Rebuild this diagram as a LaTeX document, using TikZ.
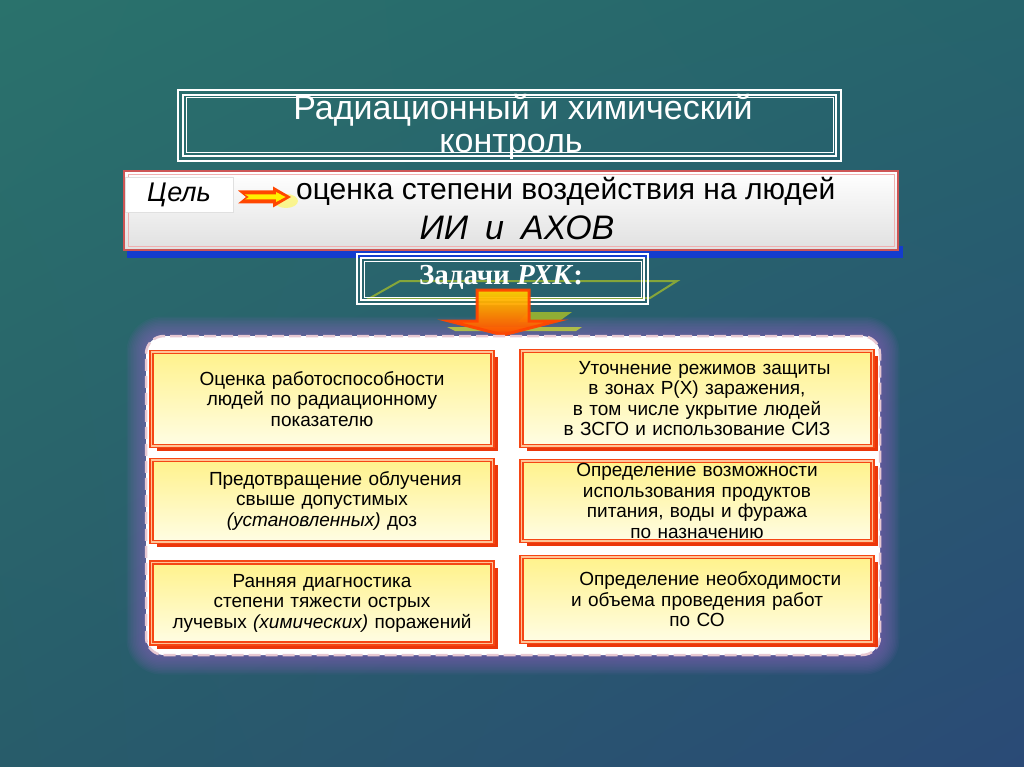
\documentclass[tikz,border=0pt]{standalone}
\usepackage{fontspec}
\setmainfont{Liberation Sans}
\newfontfamily\tnr{Liberation Serif}
\usetikzlibrary{shadows,shadings}
\definecolor{bgA}{RGB}{42,114,108}
\definecolor{bgB}{RGB}{38,100,108}
\definecolor{bgC}{RGB}{40,92,106}
\definecolor{bgD}{RGB}{42,74,118}
\definecolor{boxred}{RGB}{245,70,20}
\definecolor{boxpale}{RGB}{255,195,150}
\definecolor{boxshadow}{RGB}{235,55,10}
\definecolor{yelTop}{RGB}{255,242,140}
\definecolor{yelBot}{RGB}{255,253,228}
\definecolor{goalred}{RGB}{205,85,85}
\definecolor{goalpink}{RGB}{240,175,175}
\definecolor{goalblue}{RGB}{20,60,205}
\definecolor{glowpurple}{RGB}{118,98,172}
\definecolor{panelborder}{RGB}{232,200,210}
\definecolor{planegreen}{RGB}{150,178,50}
\definecolor{shadowgreen}{RGB}{190,205,60}
\definecolor{arrred}{RGB}{255,70,0}
\definecolor{arryel}{RGB}{255,240,0}
\begin{document}
\begin{tikzpicture}[x=1pt,y=-1pt,
  taskbox/.style={draw=boxred, line width=1.5pt, double=boxpale, double distance=1.2pt,
    top color=yelTop, bottom color=yelBot,
    drop shadow={shadow xshift=5pt, shadow yshift=-5pt, fill=boxshadow, opacity=1},
    align=center, font=\fontsize{19}{20.5}\selectfont, inner sep=2pt},
  leftbox/.style={taskbox, minimum width=341, text width=335},
  rightbox/.style={taskbox, minimum width=351, text width=345},
  frameline/.style={draw=white, line width=1.3pt},
  whitetext/.style={text=white, align=center}]
\useasboundingbox (0,0) rectangle (1024,767);
% background
\shade[upper left=bgA, upper right=bgB, lower left=bgC, lower right=bgD] (0,0) rectangle (1024,767);

% title frame
\draw[frameline] (178,90) rectangle (841,161);
\draw[frameline] (183,95) rectangle (836,156);
\draw[frameline, line width=1pt] (186,98) rectangle (833,153);
\node[whitetext, font=\fontsize{34}{33}\selectfont] (title) at (511,127)
  {\hspace*{24pt}Радиационный и химический\\контроль};

% goal bar
\fill[goalblue] (127,246) rectangle (903,258);
\shade[top color=white, bottom color=black!12] (124,171) rectangle (898,250);
\draw[goalred, line width=1.6pt] (124,171) rectangle (898,250);
\draw[goalpink, line width=1pt] (128,175) rectangle (894,246);
\node[fill=white, draw=black!12, minimum width=108, minimum height=35, inner sep=0pt,
  font=\itshape\fontsize{27}{27}\selectfont, text=black] (goal) at (179,194.5) {Цель};
% small arrow
\fill[yellow!70, opacity=0.6] (286,201) ellipse (12 and 7);
\fill[arrred] (238,190.5) -- (273,190.5) -- (273,186.5) -- (291,197) -- (273,207.5)
  -- (273,203.5) -- (238,203.5) -- (246,197) -- cycle;
\fill[arryel] (245,194.5) -- (276,194.5) -- (276,192) -- (285.5,197) -- (276,202)
  -- (276,199.5) -- (245,199.5) -- (249,197) -- cycle;
\node[anchor=west, font=\fontsize{30}{30}\selectfont, text=black, inner sep=0pt]
  (goaltext) at (296,191) {оценка степени воздействия на людей};
\node[font=\itshape\fontsize{34}{34}\selectfont, text=black] (agents) at (517,228)
  {ИИ\hspace{0.5em}и\hspace{0.5em}АХОВ};

% green plane behind the tasks box
\draw[planegreen, line width=2pt, opacity=0.85] (370,298) -- (400,281) -- (677,281) -- (650,298) -- cycle;

% tasks box
\draw[frameline, line width=1.2pt] (357,254) rectangle (648,304);
\draw[frameline, line width=1.2pt] (361,258) rectangle (644,300);
\draw[frameline, line width=0.8pt] (364,261) rectangle (641,297);
\node[text=white, font=\tnr\bfseries\fontsize{29}{29}\selectfont] (tasks) at (501,277)
  {Задачи \textit{РХК}:};

% glow around the panel
\foreach \i [evaluate=\i as \r using 16+1.5*\i] in {1,...,13}{
  \fill[glowpurple, opacity=0.095, rounded corners=\r pt]
    (146-1.5*\i,336-1.5*\i) rectangle (880+1.5*\i,655+1.5*\i);
}
% green shadow pieces of the plane under the arrow
\fill[planegreen, opacity=0.95] (528,312) -- (572,312) -- (558,322) -- (518,322) -- cycle;
\fill[shadowgreen, opacity=0.85] (447,327) -- (582,327) -- (576,331) -- (455,331) -- cycle;

% big arrow
\shade[top color=arryel!75!orange, middle color=arryel, bottom color=arrred, opacity=0.95]
  (477,290) -- (529,290) -- (529,321) -- (557,321) -- (503,335) -- (449,321) -- (477,321) -- cycle;
\draw[arrred, line width=3pt, opacity=0.95, line join=miter]
  (477,290) -- (529,290) -- (529,321) -- (557,321) -- (503,335) -- (449,321) -- (477,321) -- cycle;

% panel
\node[fill=white, draw=panelborder, line width=2.5pt, dash pattern=on 12pt off 5pt,
  rounded corners=18pt, minimum width=734, minimum height=319] (panel) at (513,495.5) {};

% task boxes
\node[leftbox, minimum height=94] (l1) at (322,399)
  {Оценка работоспособности\\людей по радиационному\\показателю};
\node[leftbox, minimum height=82] (l2) at (322,501)
  {\hspace*{1.4em}Предотвращение облучения\\свыше допустимых\\\textit{(установленных)} доз};
\node[leftbox, minimum height=81] (l3) at (322,603)
  {Ранняя диагностика\\степени тяжести острых\\лучевых \textit{(химических)} поражений};
\node[rightbox, minimum height=95] (r1) at (697,398.5)
  {\hspace*{0.8em}Уточнение режимов защиты\\в зонах Р(Х) заражения,\\в том числе укрытие людей\\в ЗСГО и использование СИЗ};
\node[rightbox, minimum height=80] (r2) at (697,501)
  {Определение возможности\\использования продуктов\\питания, воды и фуража\\по назначению};
\node[rightbox, minimum height=85] (r3) at (697,599.5)
  {\hspace*{1.4em}Определение необходимости\\и объема проведения работ\\по СО};
\end{tikzpicture}
\end{document}
